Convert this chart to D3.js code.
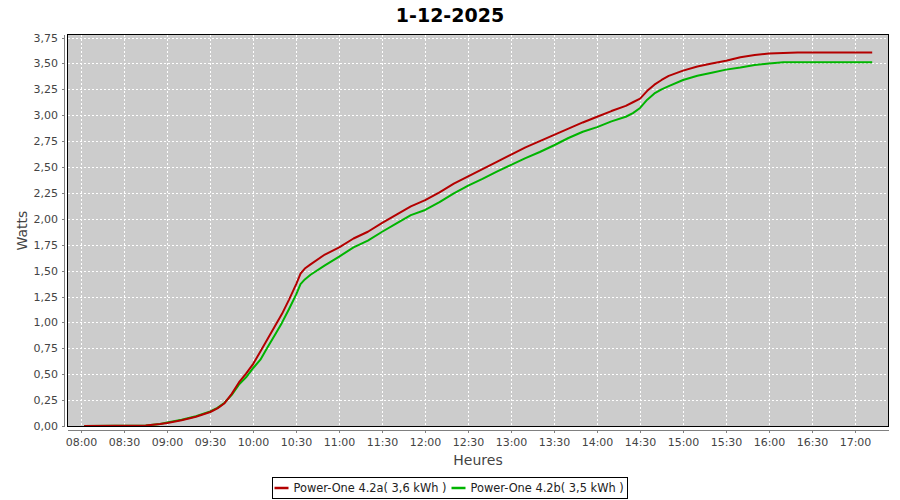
<!DOCTYPE html>
<html>
<head>
<meta charset="utf-8">
<script src="https://cdn.jsdelivr.net/npm/d3@7"></script>
<style>
  body { margin: 0; background: #fff; }
  svg { font-family: "DejaVu Sans", sans-serif; }
</style>
</head>
<body>
<svg id="chart"></svg>
<script>
// sample times and the two inverter series
const times = ["08:02", "08:45", "08:55", "09:00", "09:10", "09:20", "09:30", "09:35", "09:40", "09:45",
  "09:50", "09:55", "10:00", "10:05", "10:10", "10:15", "10:20", "10:25", "10:30", "10:33",
  "10:36", "10:40", "10:50", "11:00", "11:10", "11:20", "11:30", "11:40", "11:50", "12:00",
  "12:10", "12:20", "12:30", "12:40", "12:50", "13:00", "13:10", "13:20", "13:30", "13:40",
  "13:50", "14:00", "14:10", "14:20", "14:25", "14:30", "14:35", "14:40", "14:45", "14:50",
  "15:00", "15:10", "15:20", "15:30", "15:40", "15:50", "16:00", "16:10", "16:20", "16:40",
  "17:00", "17:12"];

const seriesA = [0, 0.005, 0.02, 0.03, 0.055, 0.09, 0.135, 0.17, 0.22, 0.31,
  0.42, 0.505, 0.6, 0.72, 0.84, 0.96, 1.08, 1.22, 1.37, 1.47,
  1.52, 1.56, 1.655, 1.725, 1.81, 1.875, 1.96, 2.04, 2.12, 2.18,
  2.255, 2.34, 2.41, 2.48, 2.55, 2.62, 2.69, 2.75, 2.81, 2.87,
  2.93, 2.985, 3.04, 3.09, 3.125, 3.16, 3.235, 3.295, 3.34, 3.38,
  3.43, 3.47, 3.50, 3.525, 3.56, 3.58, 3.595, 3.60, 3.605, 3.605,
  3.605, 3.605];

const seriesB = [0, 0.005, 0.02, 0.035, 0.06, 0.095, 0.14, 0.175, 0.225, 0.30,
  0.40, 0.47, 0.56, 0.64, 0.76, 0.875, 0.995, 1.13, 1.27, 1.37,
  1.415, 1.46, 1.55, 1.635, 1.725, 1.79, 1.875, 1.955, 2.035, 2.085,
  2.16, 2.245, 2.32, 2.385, 2.455, 2.52, 2.585, 2.645, 2.71, 2.78,
  2.84, 2.885, 2.94, 2.985, 3.02, 3.07, 3.15, 3.21, 3.25, 3.28,
  3.34, 3.38, 3.41, 3.44, 3.46, 3.485, 3.50, 3.51, 3.51, 3.51,
  3.51, 3.51];

const seriesNames = ["Power-One 4.2a( 3,6 kWh )", "Power-One 4.2b( 3,5 kWh )"];
const seriesColors = ["#b40000", "#00b400"];

const xTicks = ["08:00", "08:30", "09:00", "09:30", "10:00", "10:30", "11:00", "11:30", "12:00",
  "12:30", "13:00", "13:30", "14:00", "14:30", "15:00", "15:30", "16:00", "16:30", "17:00"];
const yTicks = [0, 0.25, 0.5, 0.75, 1, 1.25, 1.5, 1.75, 2, 2.25, 2.5, 2.75, 3, 3.25, 3.5, 3.75];

const W = 900, H = 500;
const plot = { left: 67.5, right: 888.5, top: 34.5, bottom: 426.5 };

const parse = d3.timeParse("%H:%M");
const fmtNum = v => d3.format(".2f")(v).replace(".", ",");

const svg = d3.select("#chart").attr("width", W).attr("height", H);
svg.append("rect").attr("width", W).attr("height", H).attr("fill", "#fff");

// x: 08:00 -> 81.3, 17:00 -> 855
const x = d3.scaleTime()
  .domain([parse("08:00"), parse("17:00")])
  .range([81.3, 855]);
const y = d3.scaleLinear().domain([0, 3.75]).range([426, 37.5]);

// title
svg.append("text")
  .attr("x", W / 2).attr("y", 22)
  .attr("text-anchor", "middle")
  .style("font-size", "19px").style("font-weight", "bold")
  .attr("fill", "#000")
  .text("1-12-2025");

// plot background
svg.append("rect")
  .attr("x", plot.left).attr("y", plot.top)
  .attr("width", plot.right - plot.left).attr("height", plot.bottom - plot.top)
  .attr("fill", "#cccccc");

svg.append("defs").append("clipPath").attr("id", "plot-clip")
  .append("rect")
  .attr("x", plot.left).attr("y", plot.top)
  .attr("width", plot.right - plot.left).attr("height", plot.bottom - plot.top);

// gridlines
const grid = svg.append("g").attr("stroke", "#fff").attr("stroke-width", 1)
  .attr("stroke-dasharray", "2,2").attr("shape-rendering", "crispEdges");
grid.selectAll(".vg").data(xTicks).join("line")
  .attr("x1", d => Math.round(x(parse(d))) + 0.5).attr("x2", d => Math.round(x(parse(d))) + 0.5)
  .attr("y1", plot.top).attr("y2", plot.bottom);
grid.selectAll(".hg").data(yTicks).join("line")
  .attr("y1", d => Math.round(y(d)) + 0.5).attr("y2", d => Math.round(y(d)) + 0.5)
  .attr("x1", plot.left).attr("x2", plot.right);

// series lines (green first so red sits on top)
const line = d3.line()
  .x((d, i) => x(parse(times[i])))
  .y(d => y(d));

const lines = svg.append("g").attr("clip-path", "url(#plot-clip)");
[seriesB, seriesA].forEach((s, k) => {
  lines.append("path")
    .datum(s)
    .attr("d", line)
    .attr("fill", "none")
    .attr("stroke", seriesColors[1 - k])
    .attr("stroke-width", 2)
    .attr("stroke-linejoin", "round");
});

// plot border
svg.append("rect")
  .attr("x", plot.left).attr("y", plot.top)
  .attr("width", plot.right - plot.left).attr("height", plot.bottom - plot.top)
  .attr("fill", "none").attr("stroke", "#000").attr("stroke-width", 1)
  .attr("shape-rendering", "crispEdges");

// y axis
const yAxis = svg.append("g").attr("shape-rendering", "crispEdges");
yAxis.append("line").attr("x1", 64.5).attr("x2", 64.5)
  .attr("y1", plot.top).attr("y2", plot.bottom).attr("stroke", "#808080");
const yt = yAxis.selectAll(".yt").data(yTicks).join("g")
  .attr("transform", d => `translate(0,${Math.round(y(d)) + 0.5})`);
yt.append("line").attr("x1", 62).attr("x2", 64.5).attr("stroke", "#808080");
yt.append("text").attr("x", 58).attr("dy", "0.36em")
  .attr("text-anchor", "end").style("font-size", "11px").attr("fill", "#444")
  .text(d => fmtNum(d));

// x axis
const xAxis = svg.append("g").attr("shape-rendering", "crispEdges");
xAxis.append("line").attr("x1", plot.left).attr("x2", plot.right)
  .attr("y1", 430.5).attr("y2", 430.5).attr("stroke", "#808080");
const xt = xAxis.selectAll(".xt").data(xTicks).join("g")
  .attr("transform", d => `translate(${Math.round(x(parse(d))) + 0.5},0)`);
xt.append("line").attr("y1", 430.5).attr("y2", 433).attr("stroke", "#808080");
xt.append("text").attr("y", 445.5)
  .attr("text-anchor", "middle").style("font-size", "11px").attr("fill", "#444")
  .text(d => d);

// axis titles
svg.append("text")
  .attr("x", (plot.left + plot.right) / 2).attr("y", 465)
  .attr("text-anchor", "middle").style("font-size", "14px").attr("fill", "#444")
  .text("Heures");
svg.append("text")
  .attr("transform", `translate(27,${(plot.top + plot.bottom) / 2}) rotate(-90)`)
  .attr("text-anchor", "middle").style("font-size", "14px").attr("fill", "#444")
  .text("Watts");

// legend
const legend = svg.append("g");
const items = legend.selectAll(".li").data(seriesNames).join("g");
items.append("line").attr("x1", 0).attr("x2", 14).attr("y1", 0).attr("y2", 0)
  .attr("stroke", (d, i) => seriesColors[i]).attr("stroke-width", 2.5);
items.append("text").attr("x", 19).attr("dy", "0.36em")
  .style("font-size", "11.4px").attr("fill", "#222")
  .text(d => d);
let offs = 0;
const widths = [];
items.each(function () {
  widths.push(19 + this.querySelector("text").getComputedTextLength());
});
const gap = 5;
const total = d3.sum(widths) + gap * (widths.length - 1);
const boxW = total + 6, boxH = 21;
const boxX = Math.round(450 - boxW / 2) + 0.5;
items.attr("transform", (d, i) => {
  const t = `translate(${boxX + 2 + offs},488)`;
  offs += widths[i] + gap;
  return t;
});
legend.insert("rect", ":first-child")
  .attr("x", boxX).attr("y", 477.5).attr("width", boxW).attr("height", boxH)
  .attr("fill", "#fff").attr("stroke", "#000").attr("shape-rendering", "crispEdges");
</script>
</body>
</html>
